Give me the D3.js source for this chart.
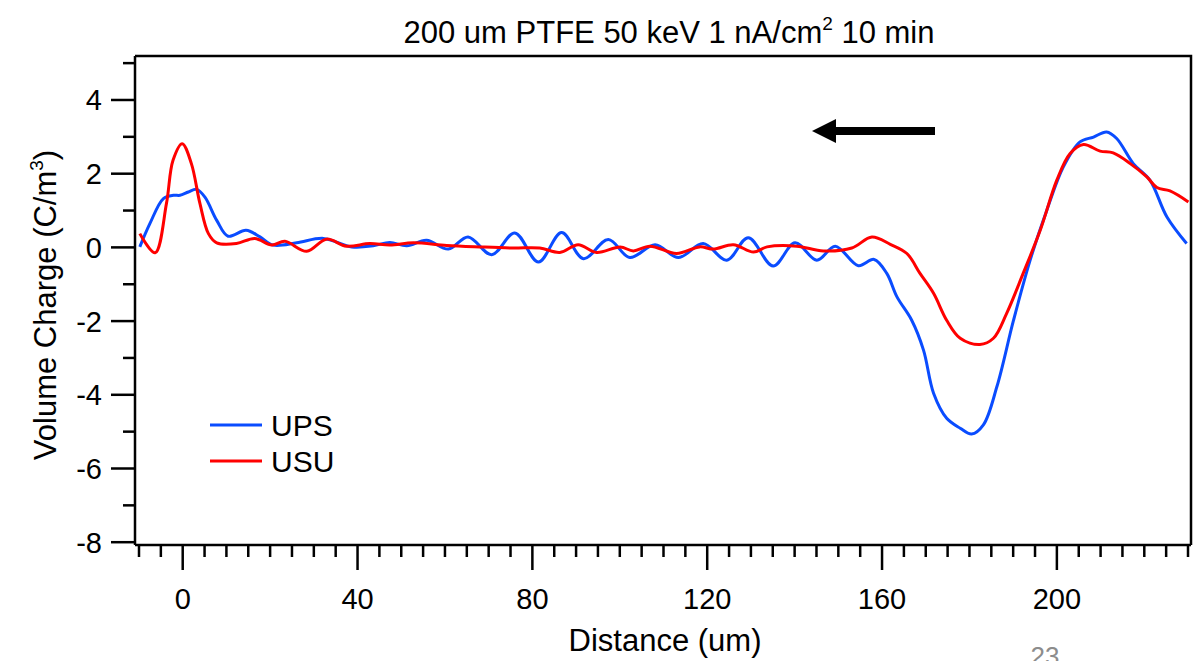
<!DOCTYPE html>
<html>
<head>
<meta charset="utf-8">
<script src="https://cdn.jsdelivr.net/npm/d3@7"></script>
<style>
  html, body { margin: 0; padding: 0; background: #fff; }
  svg { display: block; }
  text { font-family: "Liberation Sans", Arial, sans-serif; fill: #000; }
</style>
</head>
<body>
<svg id="chart" width="1204" height="661"></svg>
<script>
// ---- data ----
const upsX = [-9.7, -7.4, -4.3, -2.0, -0.5, 1.4, 3.3, 5.2, 7.9, 10.5, 14.6, 17.8, 20.8, 26.2, 32.3, 38.8, 43.7, 47.5, 51.4, 55.9, 60.9, 65.4, 70.8, 76.1, 81.5, 86.8, 91.8, 97.5, 102.4, 108.2, 113.5, 119.2, 124.6, 129.5, 135.2, 140.2, 145.2, 149.4, 154.7, 158.3, 161.2, 163.5, 166.9, 169.6, 171.9, 174.9, 178.0, 180.6, 183.3, 186.4, 190.2, 194.0, 197.8, 201.6, 205.4, 208.5, 211.5, 213.8, 217.6, 221.4, 225.3, 229.8];
const upsY = [0.0, 0.63, 1.31, 1.40, 1.40, 1.49, 1.56, 1.35, 0.72, 0.29, 0.45, 0.27, 0.05, 0.11, 0.23, 0.0, 0.03, 0.12, 0.03, 0.18, -0.06, 0.27, -0.21, 0.38, -0.41, 0.39, -0.32, 0.20, -0.29, 0.06, -0.29, 0.09, -0.36, 0.25, -0.52, 0.11, -0.36, 0.02, -0.51, -0.34, -0.72, -1.35, -1.99, -2.80, -3.97, -4.65, -4.92, -5.08, -4.83, -3.79, -1.99, -0.36, 0.99, 2.17, 2.85, 2.98, 3.12, 2.94, 2.26, 1.81, 0.81, 0.09];

const usuX = [-9.7, -6.2, -3.6, -2.1, 0.0, 2.1, 4.05, 6.0, 7.9, 12.4, 16.6, 20.5, 23.5, 28.5, 33.0, 37.6, 42.9, 47.5, 52.9, 60.5, 68.1, 75.7, 81.8, 86.4, 90.6, 94.8, 100.2, 103.2, 107.0, 113.1, 118.4, 121.5, 126.1, 130.7, 133.8, 140.6, 146.7, 153.2, 157.8, 162.0, 165.8, 168.8, 171.9, 174.9, 178.0, 182.5, 185.6, 188.6, 192.4, 196.3, 200.1, 203.1, 206.2, 210.0, 213.0, 216.9, 220.7, 223.0, 226.0, 230.2];
const usuY = [0.36, -0.16, 1.18, 2.35, 2.80, 2.26, 1.18, 0.36, 0.11, 0.09, 0.23, 0.05, 0.15, -0.12, 0.21, 0.02, 0.09, 0.05, 0.11, 0.04, 0.0, -0.03, -0.03, -0.15, 0.06, -0.15, 0.0, -0.11, 0.02, -0.18, 0.0, -0.06, 0.06, -0.14, 0.0, 0.02, -0.11, -0.03, 0.27, 0.07, -0.18, -0.72, -1.26, -1.99, -2.48, -2.65, -2.48, -1.81, -0.72, 0.45, 1.81, 2.53, 2.78, 2.60, 2.55, 2.26, 1.90, 1.61, 1.52, 1.22];

const seriesNames = ["UPS", "USU"];
const seriesColors = ["#0a4cff", "#ff0000"];
const xMajorTicks = [0, 40, 80, 120, 160, 200];
const xMinorTicks = [-10, -5, 5, 10, 15, 20, 25, 30, 35, 45, 50, 55, 60, 65, 70, 75, 85, 90, 95, 100, 105, 110, 115, 125, 130, 135, 140, 145, 150, 155, 165, 170, 175, 180, 185, 190, 195, 205, 210, 215, 220, 225, 230];
const yMajorTicks = [-8, -6, -4, -2, 0, 2, 4];
const yMinorTicks = [-7, -5, -3, -1, 1, 3, 5];
const xDomain = [-10.8, 230.8];
const yDomain = [-8, 5.18];

// ---- layout ----
const svg = d3.select("#chart");
const L = 135, R = 1191, T = 56, B = 541.7, XAXIS_Y = 545;
const FONT = "Liberation Sans, Arial, sans-serif";

const x = d3.scaleLinear().domain(xDomain).range([L, R]);
const y = d3.scaleLinear().domain(yDomain).range([B, T]);
const fmt = d => String(d); // plain hyphen minus like the reference

svg.append("defs").append("clipPath").attr("id", "clip")
  .append("rect").attr("x", L).attr("y", T).attr("width", R - L).attr("height", XAXIS_Y - T);

// frame (top and right)
svg.append("path")
  .attr("d", `M${L},${T}H${R}V${XAXIS_Y}`)
  .attr("fill", "none").attr("stroke", "#000").attr("stroke-width", 2.5);

// y axis
const yAxis = d3.axisLeft(y).tickValues(yMajorTicks).tickSize(24).tickPadding(9).tickFormat(fmt);
const gy = svg.append("g").attr("transform", `translate(${L},0)`).call(yAxis);
gy.select(".domain").remove();
gy.selectAll(".tick line").attr("stroke-width", 2.5);
gy.selectAll(".tick text").attr("font-size", 29).attr("font-family", FONT).attr("dy", "0.36em");
const yAxisMinor = d3.axisLeft(y).tickValues(yMinorTicks).tickSize(12).tickFormat("");
const gy2 = svg.append("g").attr("transform", `translate(${L},0)`).call(yAxisMinor);
gy2.select(".domain").remove();
gy2.selectAll(".tick line").attr("stroke-width", 2.5);
svg.append("line").attr("x1", L).attr("x2", L).attr("y1", T).attr("y2", XAXIS_Y)
  .attr("stroke", "#000").attr("stroke-width", 2.5);

// x axis
const xAxis = d3.axisBottom(x).tickValues(xMajorTicks).tickSize(25).tickPadding(18).tickFormat(fmt);
const gx = svg.append("g").attr("transform", `translate(0,${XAXIS_Y})`).call(xAxis);
gx.select(".domain").remove();
gx.selectAll(".tick line").attr("stroke-width", 2.5);
gx.selectAll(".tick text").attr("font-size", 29).attr("font-family", FONT);
const xAxisMinor = d3.axisBottom(x).tickValues(xMinorTicks).tickSize(12).tickFormat("");
const gx2 = svg.append("g").attr("transform", `translate(0,${XAXIS_Y})`).call(xAxisMinor);
gx2.select(".domain").remove();
gx2.selectAll(".tick line").attr("stroke-width", 2.5);
svg.append("line").attr("x1", L).attr("x2", R).attr("y1", XAXIS_Y).attr("y2", XAXIS_Y)
  .attr("stroke", "#000").attr("stroke-width", 2.5);

// lines
const line = d3.line().x(d => x(d[0])).y(d => y(d[1])).curve(d3.curveCatmullRom.alpha(0.5));
const seriesData = [d3.zip(upsX, upsY), d3.zip(usuX, usuY)];
const plot = svg.append("g").attr("clip-path", "url(#clip)");
seriesData.forEach((data, i) => {
  plot.append("path").datum(data)
    .attr("d", line)
    .attr("fill", "none")
    .attr("stroke", seriesColors[i])
    .attr("stroke-width", 3)
    .attr("stroke-linejoin", "round");
});

// title
const title = svg.append("text").attr("x", 669).attr("y", 43).attr("text-anchor", "middle").attr("font-size", 31);
title.append("tspan").text("200 um PTFE 50 keV 1 nA/cm");
title.append("tspan").attr("font-size", 19).attr("dy", -13).text("2");
title.append("tspan").attr("dy", 13).text(" 10 min");

// axis titles
svg.append("text").attr("x", 665).attr("y", 651).attr("text-anchor", "middle").attr("font-size", 31).text("Distance (um)");
const yt = svg.append("text").attr("transform", "translate(56,305) rotate(-90)").attr("text-anchor", "middle").attr("font-size", 31);
yt.append("tspan").text("Volume Charge (C/m");
yt.append("tspan").attr("font-size", 19).attr("dy", -13).text("3");
yt.append("tspan").attr("dy", 13).text(")");

// legend
const legend = svg.append("g");
seriesNames.forEach((name, i) => {
  const ly = 425 + i * 36;
  legend.append("line").attr("x1", 210).attr("x2", 262).attr("y1", ly).attr("y2", ly)
    .attr("stroke", seriesColors[i]).attr("stroke-width", 3);
  legend.append("text").attr("x", 271).attr("y", ly + 11).attr("font-size", 30).text(name);
});

// arrow
svg.append("line").attr("x1", 935).attr("x2", 830).attr("y1", 131).attr("y2", 131)
  .attr("stroke", "#000").attr("stroke-width", 8);
svg.append("path").attr("d", "M812,131L836,119L836,143Z").attr("fill", "#000");

// page number (cut off at the bottom edge, as in the reference)
svg.append("text").attr("x", 1045).attr("y", 665).attr("text-anchor", "middle")
  .attr("font-size", 26).style("fill", "#8c8c8c").text("23");
</script>
</body>
</html>
